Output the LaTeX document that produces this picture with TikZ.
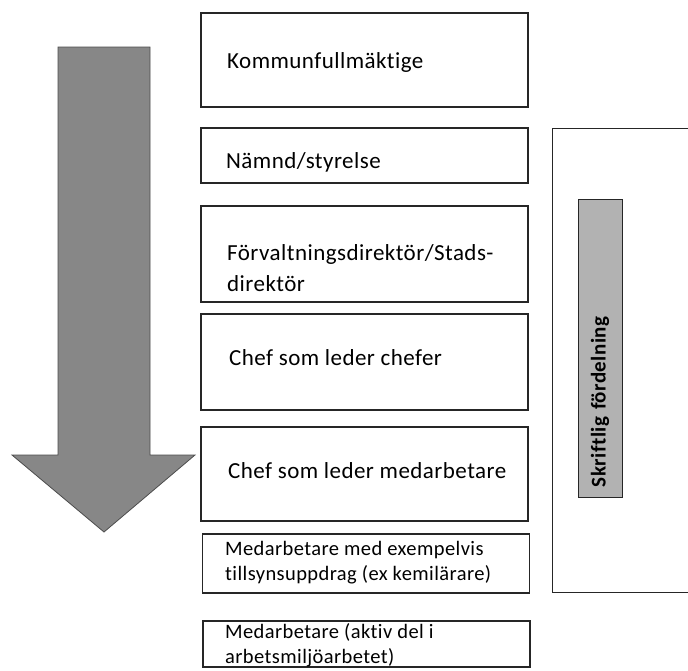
\documentclass[tikz,border=0pt]{standalone}
\usepackage{fontspec}
\setmainfont{Carlito}[Ligatures={NoCommon}, LetterSpace=2]

\begin{document}
\begin{tikzpicture}[
    x=1pt, y=-1pt,
    every node/.style={font=\fontsize{23}{31}\selectfont},
    level/.style={draw=black!85, line width=1.1pt, fill=white, minimum width=327pt, inner sep=0pt},
    lbl/.style={inner sep=0pt, align=left},
    small/.style={font=\fontsize{20.5}{25}\selectfont},
    pil/.style={fill=black!47, draw=black!70, line width=0.8pt},
    side/.style={draw=black!85, line width=1pt},
    tag/.style={draw=black!85, line width=1pt, fill=black!30, rotate=90, minimum width=298pt, minimum height=44pt, inner xsep=10pt, text width=278pt, align=left, font=\bfseries\fontsize{21}{26}\selectfont},
]
\clip (0,0) rectangle (688,670);

% big arrow on the left
\filldraw[pil] (58,47) -- (150,47) -- (150,455) -- (195,455) -- (104,532) -- (12,455) -- (58,455) -- cycle;

% levels (boxes)
\node[level, minimum height=94pt] (kf) at (364.5,60) {};
\node[level, minimum height=55pt] (nmd) at (364.5,155.5) {};
\node[level, minimum height=96pt] (dir) at (364.5,254) {};
\node[level, minimum height=96pt] (cc) at (364.5,362) {};
\node[level, minimum height=94pt] (cm) at (364.5,474) {};
\node[level, minimum height=59pt] (mt) at (366,563.5) {};
\node[level, minimum height=46pt] (ma) at (366.5,644) {};

% texts in the boxes
\node[lbl, anchor=base west] (kf-t) at (227,68) {Kommunfullmäktige};
\node[lbl, anchor=base west] (nmd-t) at (226,168) {Nämnd/styrelse};
\node[lbl, anchor=west] (dir-t) at (227,268) {Förvaltningsdirektör/Stads-\\direktör};
\node[lbl, anchor=base west] (cc-t) at (229,365) {Chef som leder chefer};
\node[lbl, anchor=base west] (cm-t) at (228,478) {Chef som leder medarbetare};
\node[lbl, small, anchor=west] (mt-t) at (225,563) {Medarbetare med exempelvis\\tillsynsuppdrag (ex kemilärare)};
\node[lbl, small, anchor=west] (ma-t) at (225,645) {Medarbetare (aktiv del i\\arbetsmiljöarbetet)};

% right frame with the written distribution
\draw[side] (700,128) -- (552,128) -- (552,592) -- (700,592);
\node[tag] (skrift) at (600,348) {Skriftlig fördelning};

\end{tikzpicture}
\end{document}
